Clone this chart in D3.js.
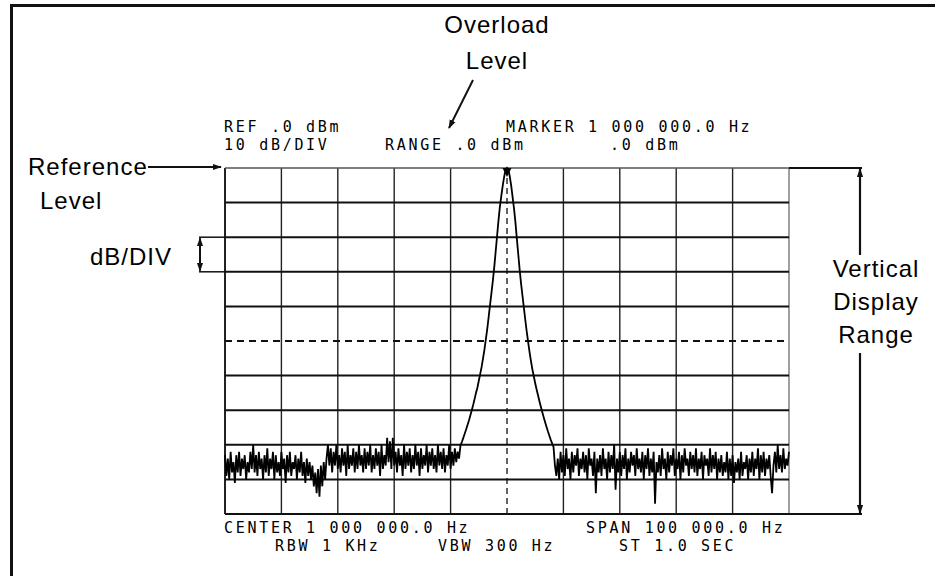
<!DOCTYPE html>
<html><head><meta charset="utf-8">
<script src="https://cdn.jsdelivr.net/npm/d3@7"></script>
<style>body{margin:0;background:#fff}svg{display:block}</style>
</head><body>
<script>
// Sweep: offset from the 1 000 000 Hz centre, in kHz (401 points over the 100 kHz span)
const startKHz = -50;
const stepKHz = 0.25;
const traceDb = [
// left noise (-50 .. -8.5 kHz)
-83,-89,-84,-90,-82,-88,-85,-91,-83,-88,-82,-89,-84,-87,-83,-90,-85,-88,-82,-87,
-80,-88,-83,-89,-82,-87,-84,-90,-83,-88,-81,-89,-84,-87,-82,-90,-83,-88,-85,-89,
-82,-87,-84,-91,-83,-88,-82,-89,-85,-87,-83,-90,-84,-88,-82,-89,-85,-91,-84,-89,
-85,-90,-86,-92,-88,-94,-87,-95,-86,-92,-85,-90,-84,
-80,-86,-81,-88,-82,-86,-80,-87,-83,-88,-81,-86,-82,-89,-80,-87,-83,-86,-81,-88,
-82,-87,-80,-86,-83,-88,-81,-87,-82,-86,-80,-88,-83,-87,-81,-86,-82,-89,-80,-87,
-83,-86,-78,-85,-79,-87,-78,-86,-82,-88,-81,-86,-83,-89,-80,-87,-82,-86,-81,-88,
-83,-87,-80,-86,-82,-89,-81,-87,-83,-86,-80,-88,-82,-86,-81,-87,-83,-88,-80,-86,
-82,-87,-81,-88,-83,-86,-80,-87,-82,-86,-81,-85,-82,-84,
// carrier (-8.25 .. +8.25 kHz)
-80.2,-79.2,-78,-76.8,-75.6,-74.3,-73,-71.5,-70,-68.5,-66.8,-65,-63.5,-61.5,-59.5,-57.5,
-55,-52.5,-49.5,-46.5,-43,-39.5,-36,-32.5,-28.5,-24,-19.5,-15,-11,-8,-5,-2.5,-0.5,
0,
-0.5,-2.5,-5.2,-8.5,-11.8,-15.8,-20.5,-25,-29.5,-33.5,-37,-40.5,-44,-47.3,-50.3,-53.2,
-55.8,-58.2,-60.2,-62.2,-64,-65.7,-67.4,-69,-70.5,-72,-73.4,-74.8,-76.1,-77.3,-78.5,-79.6,-80.6,
// right noise (+8.5 .. +50 kHz)
-86,-89,-84,-90,-82,-88,-83,-89,-81,-87,-84,-90,-82,-88,-83,-86,-81,-89,-84,-87,
-82,-88,-83,-90,-81,-86,-84,-89,-82,-94,-84,-88,-83,-89,-81,-87,-84,-90,-82,-88,
-83,-87,-80,-93,-84,-88,-82,-89,-83,-87,-81,-90,-84,-88,-82,-86,-83,-89,-81,-87,
-84,-88,-82,-90,-83,-87,-81,-89,-84,-88,-82,-97,-85,-88,-83,-89,-81,-87,-84,-90,
-82,-88,-83,-86,-81,-89,-84,-87,-82,-90,-83,-88,-81,-86,-84,-89,-82,-87,-83,-88,
-81,-89,-84,-87,-82,-90,-83,-86,-84,-89,-81,-88,-83,-87,-82,-90,-84,-88,-83,-89,
-85,-88,-82,-90,-84,-89,-83,-91,-85,-88,-84,-90,-82,-89,-85,-87,-83,-90,-84,-88,
-82,-89,-84,-87,-81,-90,-83,-88,-82,-89,-84,-87,-83,-89,-94,-86,-82,-88,-80,-87,
-83,-88,-81,-87,-84,-86,-82
];
const freqTicksKHz = [-50,-40,-30,-20,-10,0,10,20,30,40,50];
const dbTicks = [0,-10,-20,-30,-40,-50,-60,-70,-80,-90,-100];
const headerTexts = ["REF .0 dBm","10 dB/DIV","RANGE .0 dBm","MARKER 1 000 000.0 Hz",".0 dBm"];
const footerTexts = ["CENTER 1 000 000.0 Hz","RBW 1 KHz","VBW 300 Hz","SPAN 100 000.0 Hz","ST 1.0 SEC"];
const overloadLabel = ["Overload","Level"];
const referenceLabel = ["Reference","Level"];
const divLabel = "dB/DIV";
const rangeLabel = ["Vertical","Display","Range"];

const W = 935, H = 576;
const svg = d3.select("body").append("svg").attr("width", W).attr("height", H);
svg.append("rect").attr("width", W).attr("height", H).attr("fill", "#fff");

const defs = svg.append("defs");
defs.append("marker").attr("id","ah").attr("viewBox","0 0 10 10").attr("refX",9).attr("refY",5)
  .attr("markerWidth",9).attr("markerHeight",9).attr("markerUnits","userSpaceOnUse")
  .attr("orient","auto-start-reverse")
  .append("path").attr("d","M0,1.5L10,5L0,8.5Z").attr("fill","#111");

const x = d3.scaleLinear().domain([-50, 50]).range([225, 789]);
const y = d3.scaleLinear().domain([-100, 0]).range([514, 168]);

// outer frame
svg.append("path").attr("d", `M11.5,${H} V5.5 H${W}`).attr("fill","none")
  .attr("stroke","#111").attr("stroke-width",3);

// grid
const g = svg.append("g");
g.selectAll("line.v").data(freqTicksKHz).join("line")
  .attr("x1", d => x(d)).attr("x2", d => x(d)).attr("y1", y(0)).attr("y2", y(-100))
  .attr("stroke", d => (d === 50 ? "#777" : "#222"))
  .attr("stroke-width", d => (d === -50 ? 2 : 1.4))
  .attr("stroke-dasharray", d => (d === 0 ? "6,4" : null));
g.selectAll("line.h").data(dbTicks).join("line")
  .attr("x1", x(-50)).attr("x2", x(50)).attr("y1", d => y(d)).attr("y2", d => y(d))
  .attr("stroke", d => (d === 0 ? "#555" : "#111"))
  .attr("stroke-width", d => (d === 0 ? 1.4 : 2))
  .attr("stroke-dasharray", d => (d === -50 ? "7,5" : null));

// trace
const line = d3.line().x((d, i) => x(startKHz + i * stepKHz)).y(d => y(d));
svg.append("path").datum(traceDb).attr("d", line).attr("fill","none")
  .attr("stroke","#000").attr("stroke-width",1.8).attr("stroke-linejoin","miter");

// peak marker
const pk = d3.maxIndex(traceDb);
const px = x(startKHz + pk * stepKHz), py = y(traceDb[pk]);
svg.append("path").attr("d", `M${px-4.5},${py}L${px+4.5},${py}L${px},${py+9}Z`).attr("fill","#000");

// screen annotations (monospace)
const mono = svg.append("g").attr("font-family","'DejaVu Sans Mono', monospace")
  .attr("font-size",15).attr("letter-spacing","2.7px").attr("fill","#000");
const headerPos = [[224,132],[224,150],[385,150],[506,132],[610,150]];
headerTexts.forEach((t,i) => mono.append("text").attr("x",headerPos[i][0]).attr("y",headerPos[i][1]).text(t));
const footerPos = [[224,533],[275,551],[438,551],[586,533],[619,551]];
footerTexts.forEach((t,i) => mono.append("text").attr("x",footerPos[i][0]).attr("y",footerPos[i][1]).text(t));

// callouts
const sans = svg.append("g").attr("font-family","'Liberation Sans', Arial, sans-serif")
  .attr("font-size",24).attr("letter-spacing","1px").attr("fill","#000");
sans.append("text").attr("x",497).attr("y",33).attr("text-anchor","middle").text(overloadLabel[0]);
sans.append("text").attr("x",497).attr("y",69).attr("text-anchor","middle").text(overloadLabel[1]);
svg.append("line").attr("x1",473).attr("y1",80).attr("x2",449).attr("y2",128)
  .attr("stroke","#111").attr("stroke-width",2).attr("marker-end","url(#ah)");

sans.append("text").attr("x",28).attr("y",175).text(referenceLabel[0]);
sans.append("text").attr("x",40).attr("y",209).text(referenceLabel[1]);
svg.append("line").attr("x1",148).attr("y1",y(0)-1).attr("x2",221).attr("y2",y(0)-1)
  .attr("stroke","#111").attr("stroke-width",2).attr("marker-end","url(#ah)");

sans.append("text").attr("x",90).attr("y",265).text(divLabel);
[-20,-30].forEach(d => svg.append("line").attr("x1",199).attr("x2",x(-50)).attr("y1",y(d)).attr("y2",y(d))
  .attr("stroke","#111").attr("stroke-width",1.5));
svg.append("line").attr("x1",200).attr("x2",200).attr("y1",y(-20)+1).attr("y2",y(-30)-1)
  .attr("stroke","#111").attr("stroke-width",2)
  .attr("marker-start","url(#ah)").attr("marker-end","url(#ah)");

rangeLabel.forEach((t,i) => sans.append("text").attr("x",876).attr("y",277+i*33)
  .attr("text-anchor","middle").text(t));
[0,-100].forEach(d => svg.append("line").attr("x1",x(50)).attr("x2",862).attr("y1",y(d)).attr("y2",y(d))
  .attr("stroke","#111").attr("stroke-width",1.8));
svg.append("line").attr("x1",860).attr("x2",860).attr("y1",255).attr("y2",y(0)+1)
  .attr("stroke","#111").attr("stroke-width",2.2).attr("marker-end","url(#ah)");
svg.append("line").attr("x1",860).attr("x2",860).attr("y1",353).attr("y2",y(-100)-1)
  .attr("stroke","#111").attr("stroke-width",2.2).attr("marker-end","url(#ah)");
</script>
</body></html>
